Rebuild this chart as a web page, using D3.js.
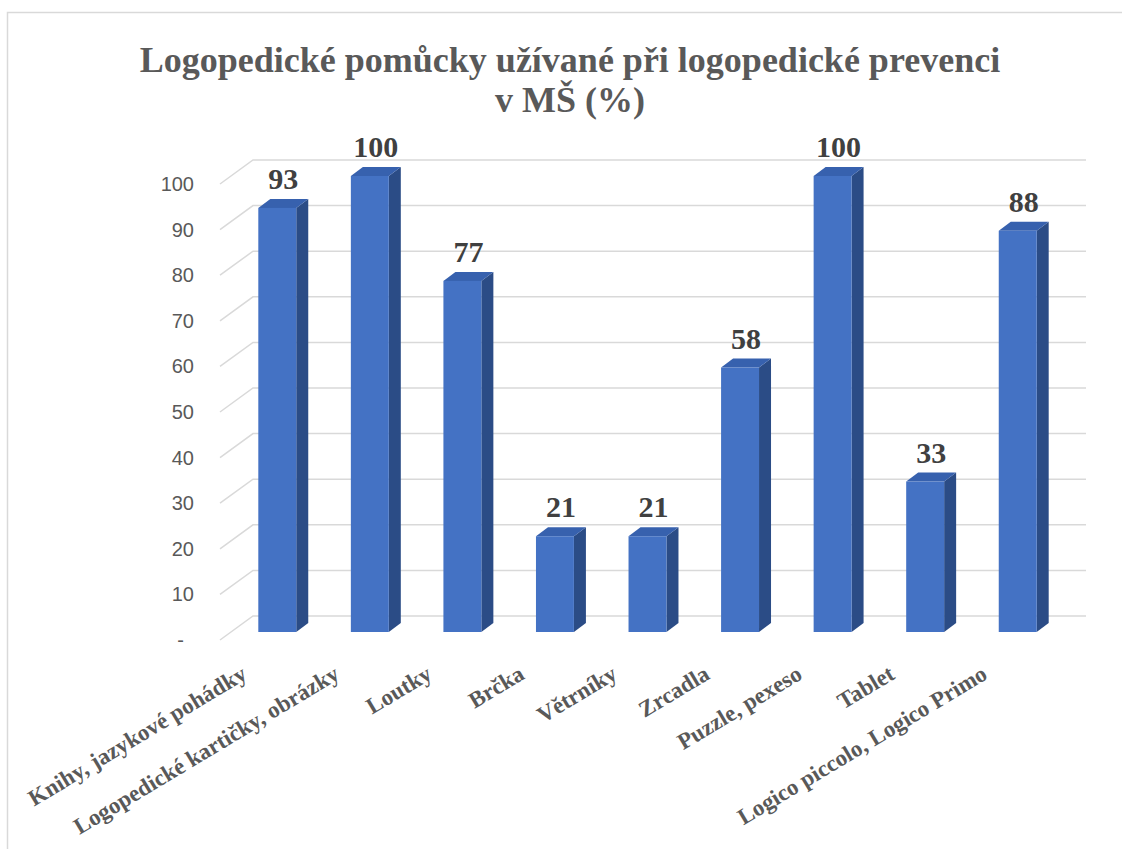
<!DOCTYPE html>
<html lang="cs">
  <head>
    <meta charset="utf-8">
    <title>Logopedické pomůcky</title>
    <script src="https://d3js.org/d3.v7.min.js"></script>
    <style type="text/css">
      body, html {
        margin: 0;
        padding: 0;
        background: #fff;
      }
      .title { font-family: "Liberation Serif", "Times New Roman", serif; font-weight: bold; fill: #595959; }
      .xlab { font-family: "Liberation Serif", "Times New Roman", serif; font-weight: bold; fill: #595959; font-size: 23px; }
      .vlab { font-family: "Liberation Serif", "Times New Roman", serif; font-weight: bold; fill: #404040; font-size: 30px; }
      .ylab { font-family: "Liberation Sans", Arial, sans-serif; fill: #595959; font-size: 20px; }
    </style>
  </head>
  <body>
    <script type="text/javascript">

      var categories = [
        "Knihy, jazykové pohádky",
        "Logopedické kartičky, obrázky",
        "Loutky",
        "Brčka",
        "Větrníky",
        "Zrcadla",
        "Puzzle, pexeso",
        "Tablet",
        "Logico piccolo, Logico Primo"
      ];
      var values = [93, 100, 77, 21, 21, 58, 100, 33, 88];
      var yTicks = [0, 10, 20, 30, 40, 50, 60, 70, 80, 90, 100];
      var titleLines = ["Logopedické pomůcky užívané při logopedické prevenci", "v MŠ (%)"];

      var w = 1122, h = 849;

      // back wall of the 3D plot
      var wall = { left: 253, right: 1086, bottom: 616, top: 160 };
      // floor depth (front edge relative to the back wall)
      var depth = { dx: -33, dy: 24 };
      // bar front/back planes relative to the back wall
      var barFront = { dx: -22, dy: 16 };
      var barBack = { dx: -10, dy: 7 };

      var svg = d3.select("body")
        .append("svg")
        .attr("width", w)
        .attr("height", h);

      // chart frame
      svg.append("path")
        .attr("d", "M7.5," + h + "V12.5H" + w)
        .attr("fill", "none")
        .attr("stroke", "#D9D9D9")
        .attr("stroke-width", 1.5);

      var x = d3.scaleBand()
        .domain(categories)
        .range([wall.left, wall.right]);

      var y = d3.scaleLinear()
        .domain([0, 100])
        .range([wall.bottom, wall.top]);

      var barW = x.step() * 0.41;

      // gridlines: back wall + side wall
      var grid = svg.append("g");
      grid.selectAll("path")
        .data(yTicks)
        .enter()
        .append("path")
        .attr("d", function(d) {
          return "M" + (wall.left + depth.dx) + "," + (y(d) + depth.dy)
            + "L" + wall.left + "," + y(d)
            + "H" + wall.right;
        })
        .attr("fill", "none")
        .attr("stroke", "#D9D9D9")
        .attr("stroke-width", 1.5);

      // y labels
      svg.append("g")
        .selectAll("text")
        .data(yTicks)
        .enter()
        .append("text")
        .attr("class", "ylab")
        .attr("text-anchor", "end")
        .attr("x", function(d) { return d === 0 ? 184 : 194; })
        .attr("y", function(d) { return y(d) + depth.dy + 7; })
        .text(function(d) { return d === 0 ? "-" : d; });

      // bars
      var bars = svg.append("g")
        .selectAll("g")
        .data(values)
        .enter()
        .append("g");

      function cx(i) { return x(categories[i]) + x.bandwidth() / 2; }

      // side face
      bars.append("path")
        .attr("fill", "#2B4C86")
        .attr("d", function(d, i) {
          var xr = cx(i) + barW / 2;
          return "M" + (xr + barFront.dx) + "," + (y(d) + barFront.dy)
            + "L" + (xr + barBack.dx) + "," + (y(d) + barBack.dy)
            + "L" + (xr + barBack.dx) + "," + (y(0) + barBack.dy)
            + "L" + (xr + barFront.dx) + "," + (y(0) + barFront.dy) + "Z";
        });

      // top face
      bars.append("path")
        .attr("fill", "#3761AE")
        .attr("d", function(d, i) {
          var xl = cx(i) - barW / 2, xr = cx(i) + barW / 2;
          return "M" + (xl + barFront.dx) + "," + (y(d) + barFront.dy)
            + "L" + (xl + barBack.dx) + "," + (y(d) + barBack.dy)
            + "L" + (xr + barBack.dx) + "," + (y(d) + barBack.dy)
            + "L" + (xr + barFront.dx) + "," + (y(d) + barFront.dy) + "Z";
        });

      // front face
      bars.append("rect")
        .attr("fill", "#4472C4")
        .attr("x", function(d, i) { return cx(i) - barW / 2 + barFront.dx; })
        .attr("y", function(d) { return y(d) + barFront.dy; })
        .attr("width", barW)
        .attr("height", function(d) { return y(0) - y(d); });

      // value labels
      bars.append("text")
        .attr("class", "vlab")
        .attr("text-anchor", "middle")
        .attr("x", function(d, i) { return cx(i) + (barFront.dx + barBack.dx) / 2; })
        .attr("y", function(d) { return y(d) - 3; })
        .text(function(d) { return d; });

      // category labels
      svg.append("g")
        .selectAll("text")
        .data(categories)
        .enter()
        .append("text")
        .attr("class", "xlab")
        .attr("text-anchor", "end")
        .attr("transform", function(d) {
          return "translate(" + (x(d) + x.bandwidth() / 2 + depth.dx - 18) + "," + 678 + ") rotate(-31)";
        })
        .text(function(d) { return d; });

      // title
      svg.append("g")
        .selectAll("text")
        .data(titleLines)
        .enter()
        .append("text")
        .attr("class", "title")
        .attr("text-anchor", "middle")
        .attr("font-size", "36px")
        .attr("x", 570)
        .attr("y", function(d, i) { return 72 + i * 40; })
        .text(function(d) { return d; });

    </script>
  </body>
</html>
